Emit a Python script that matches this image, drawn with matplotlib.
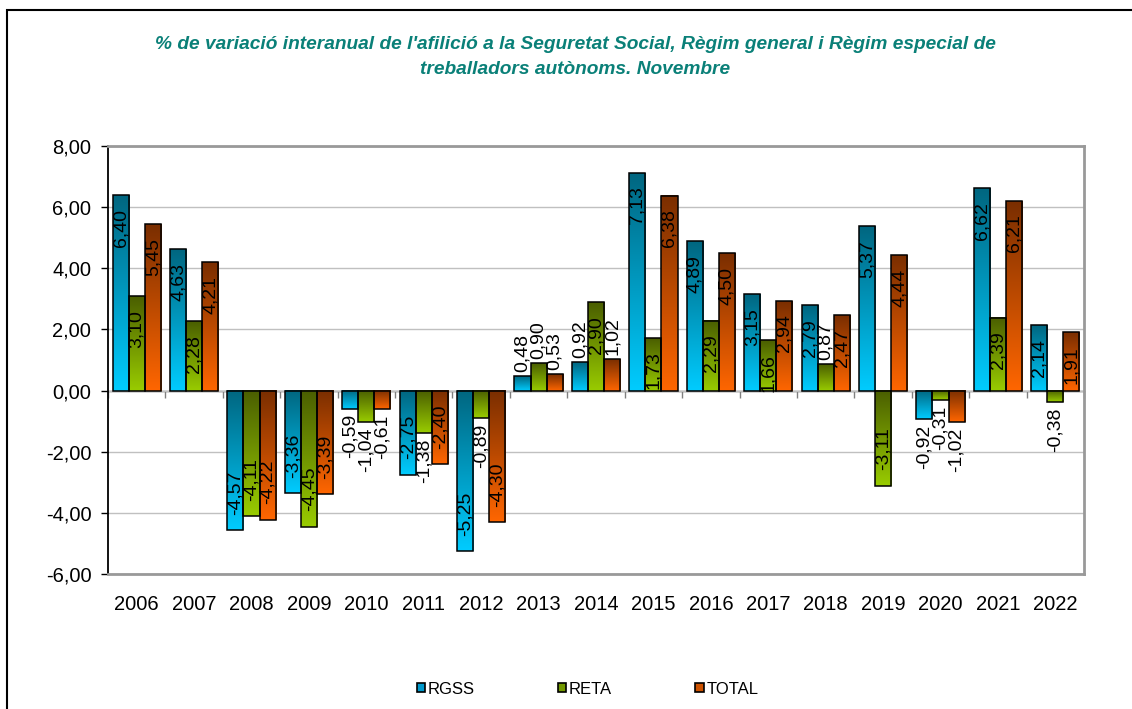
import numpy as np
import matplotlib
matplotlib.use("Agg")
from matplotlib import pyplot as plt
from matplotlib import font_manager
from matplotlib.colors import LinearSegmentedColormap
from matplotlib.patches import Patch, Rectangle

# data
years = ['2006', '2007', '2008', '2009', '2010', '2011', '2012', '2013', '2014',
         '2015', '2016', '2017', '2018', '2019', '2020', '2021', '2022']
rgss = [6.40, 4.63, -4.57, -3.36, -0.59, -2.75, -5.25, 0.48, 0.92,
        7.13, 4.89, 3.15, 2.79, 5.37, -0.92, 6.62, 2.14]
reta = [3.10, 2.28, -4.11, -4.45, -1.04, -1.38, -0.89, 0.90, 2.90,
        1.73, 2.29, 1.66, 0.87, -3.11, -0.31, 2.39, -0.38]
total = [5.45, 4.21, -4.22, -3.39, -0.61, -2.40, -4.30, 0.53, 1.02,
         6.38, 4.50, 2.94, 2.47, 4.44, -1.02, 6.21, 1.91]
series_names = ['RGSS', 'RETA', 'TOTAL']
y_ticks = [-6, -4, -2, 0, 2, 4, 6, 8]

title = ("% de variació interanual de l'afilició a la Seguretat Social, Règim general i Règim especial de\n"
         "treballadors autònoms. Novembre")

# (light bottom, dark top) for each series
gradients = [('#00ccff', '#006680'), ('#99cc00', '#4a5e00'), ('#ff6600', '#7a2e00')]
legend_colors = ['#0099cc', '#739900', '#cc5200']


def has_font(name):
    try:
        font_manager.findfont(font_manager.FontProperties(family=name), fallback_to_default=False)
        return True
    except ValueError:
        return False


NARROW = 'Liberation Sans Narrow' if has_font('Liberation Sans Narrow') else 'Liberation Sans'
plt.rcParams['font.family'] = [NARROW, 'DejaVu Sans']


def fmt(v):
    return f"{v:.2f}".replace('.', ',')


fig = plt.figure(figsize=(11.32, 7.09), dpi=100)
ax = fig.add_axes([108 / 1132, 1 - 574 / 709, (1084 - 108) / 1132, (574 - 146) / 709])

x = np.arange(len(years))
width = 0.28
grad = np.linspace(0, 1, 256).reshape(-1, 1)

for i, values in enumerate([rgss, reta, total]):
    offset = (i - 1) * width
    bars = ax.bar(x + offset, values, width, facecolor='none', edgecolor='black',
                  linewidth=1.1, zorder=3)
    cmap = LinearSegmentedColormap.from_list(series_names[i], list(gradients[i]))
    for rect, v in zip(bars, values):
        x0, w = rect.get_x(), rect.get_width()
        y0, h = rect.get_y(), rect.get_height()
        ax.imshow(grad, extent=[x0, x0 + w, min(y0, y0 + h), max(y0, y0 + h)],
                  origin='lower', cmap=cmap, aspect='auto', zorder=2,
                  interpolation='bilinear')

        # value labels: inside end when they fit, outside otherwise
        inside = abs(v) >= 1.5
        if v >= 0:
            dy, va = (-10, 'top') if inside else (3, 'bottom')
        else:
            dy, va = (11, 'bottom') if inside else (-4, 'top')
        ax.annotate(fmt(v), xy=(x0 + w / 2, v), xytext=(0, dy), textcoords='offset points',
                    rotation=90, ha='center', va=va, fontsize=14,
                    family='Liberation Sans', zorder=4)

ax.set_xlim(-0.5, len(years) - 0.5)
ax.set_ylim(y_ticks[0], y_ticks[-1])
ax.set_yticks(y_ticks)
ax.set_yticklabels([fmt(t) for t in y_ticks], fontsize=14.5)
ax.set_xticks(x)
ax.set_xticklabels(years, fontsize=14.5)
ax.tick_params(axis='x', length=0, pad=15)
ax.tick_params(axis='y', length=5, width=1, color='black', pad=7)
ax.yaxis.grid(True, color='#c0c0c0', linewidth=1, zorder=0)
ax.set_axisbelow(True)

for side in ['top', 'right', 'bottom']:
    ax.spines[side].set_color('#999999')
    ax.spines[side].set_linewidth(2)
ax.spines['left'].set_color('black')
ax.spines['left'].set_linewidth(1.3)

# zero line with category separator ticks
zero_pos = (0 - y_ticks[0]) / (y_ticks[-1] - y_ticks[0])
sec = ax.secondary_xaxis(zero_pos)
sec.set_xticks(np.arange(len(years) + 1) - 0.5)
sec.tick_params(axis='x', length=5, width=1, color='#808080', direction='out',
                labelbottom=False, labeltop=False)
sec.spines['bottom'].set_color('#404040')
sec.spines['bottom'].set_linewidth(1)

fig.text(0.508, 1 - 57 / 709, title, ha='center', va='center', fontsize=13.8,
         fontweight='bold', fontstyle='italic', color='#0a8078', linespacing=1.65)

handles = [Patch(facecolor=c, edgecolor='black', linewidth=1.2) for c in legend_colors]
fig.legend(handles, series_names, loc='center', bbox_to_anchor=(0.519, 1 - 689 / 709),
           ncol=3, frameon=False, fontsize=12, handlelength=0.5, handleheight=0.5,
           handletextpad=0.15, columnspacing=5.0)

# outer chart frame
fig.patches.append(Rectangle((7 / 1132, -0.05), 1.1, 1 - 10 / 709 + 0.05,
                             transform=fig.transFigure, fill=False,
                             edgecolor='black', linewidth=1.5))

fig.savefig('out.png', dpi=100)
